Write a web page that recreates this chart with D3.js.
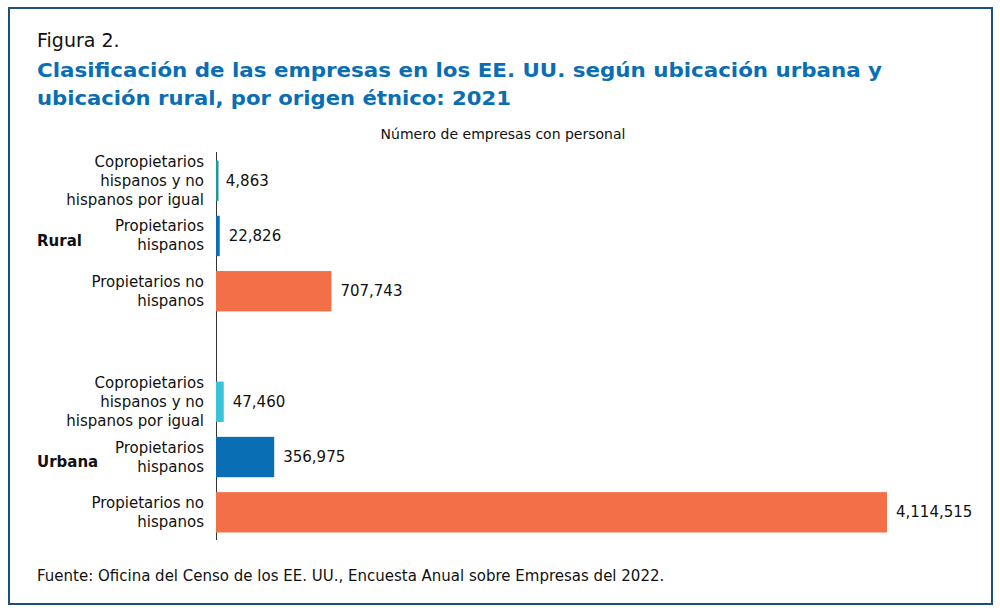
<!DOCTYPE html>
<html><head><meta charset="utf-8">
<script src="https://cdn.jsdelivr.net/npm/d3@7"></script>
<style>body{margin:0;background:#fff;font-family:"DejaVu Sans",sans-serif}</style>
</head><body><svg id="chart"></svg>
<script>
var width = 1000, height = 613;

var groups = ["Rural", "Urbana"];
var categories = [
  ["Copropietarios", "hispanos y no", "hispanos por igual"],
  ["Propietarios", "hispanos"],
  ["Propietarios no", "hispanos"]
];
var rural = [4863, 22826, 707743];
var urbana = [47460, 356975, 4114515];
var colors = {Rural: ["#1a9aa0", "#0a6eb4", "#f26f47"], Urbana: ["#38c3d8", "#0a6eb4", "#f26f47"]};

var rows = [];
groups.forEach(function(g, gi) {
  var vals = gi == 0 ? rural : urbana;
  categories.forEach(function(c, ci) {
    rows.push({group: g, gi: gi, ci: ci, label: c, value: vals[ci], color: colors[g][ci]});
  });
});

var svg = d3.select("#chart").attr("width", width).attr("height", height);

svg.append("rect").attr("x", 9).attr("y", 8).attr("width", 983).attr("height", 596)
  .attr("fill", "none").attr("stroke", "#1d4f7c").attr("stroke-width", 2);

svg.append("text").attr("x", 37).attr("y", 47).style("font-size", "19px").attr("fill", "#111").text("Figura 2.");
svg.append("text").attr("x", 37).attr("y", 77).style("font-size", "20px").style("font-weight", "bold").attr("fill", "#0a6eb4")
  .attr("textLength", 845).attr("lengthAdjust", "spacingAndGlyphs")
  .text("Clasificación de las empresas en los EE. UU. según ubicación urbana y");
svg.append("text").attr("x", 37).attr("y", 105).style("font-size", "20px").style("font-weight", "bold").attr("fill", "#0a6eb4")
  .attr("textLength", 474).attr("lengthAdjust", "spacingAndGlyphs")
  .text("ubicación rural, por origen étnico: 2021");
svg.append("text").attr("x", 503).attr("y", 139).attr("text-anchor", "middle").style("font-size", "14px")
  .attr("fill", "#111").text("Número de empresas con personal");

var x = d3.scaleLinear().domain([0, 4114515]).range([216, 887]);
var y = d3.scaleBand().domain(d3.range(7)).range([155, 538]).paddingInner(0.27).paddingOuter(0.1);
var rowIndex = d => d.gi * 4 + d.ci;

svg.append("line").attr("x1", 216.5).attr("x2", 216.5).attr("y1", 152).attr("y2", 540).attr("stroke", "#333");

svg.append("g").selectAll("rect").data(rows).join("rect")
  .attr("x", x(0)).attr("y", d => y(rowIndex(d)))
  .attr("width", d => Math.max(2.5, x(d.value) - x(0))).attr("height", y.bandwidth())
  .attr("fill", d => d.color);

svg.append("g").selectAll("text").data(rows).join("text")
  .attr("x", d => x(d.value) + 9).attr("y", d => y(rowIndex(d)) + y.bandwidth() / 2 + 5)
  .style("font-size", "15px").attr("fill", "#111").text(d => d3.format(",")(d.value));

rows.forEach(function(d) {
  var cy = y(rowIndex(d)) + y.bandwidth() / 2;
  var n = d.label.length;
  var t = svg.append("text").attr("text-anchor", "end").style("font-size", "15px").attr("fill", "#111");
  d.label.forEach(function(l, i) {
    t.append("tspan").attr("x", 204).attr("y", cy + 5 + (i - (n - 1) / 2) * 19).text(l);
  });
});

groups.forEach(function(g, gi) {
  svg.append("text").attr("x", 37).attr("y", y(gi * 4 + 1) + y.bandwidth() / 2 + 10)
    .style("font-size", "15px").style("font-weight", "bold").attr("fill", "#111").text(g);
});

svg.append("text").attr("x", 37).attr("y", 581).style("font-size", "15px").attr("fill", "#111")
  .text("Fuente: Oficina del Censo de los EE. UU., Encuesta Anual sobre Empresas del 2022.");
</script></body></html>
